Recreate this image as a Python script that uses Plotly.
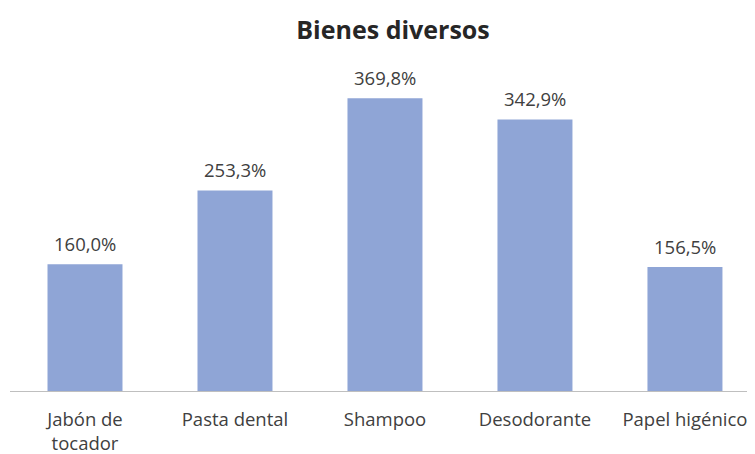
import plotly.graph_objects as go

categories = ["Jabón de<br>tocador", "Pasta dental", "Shampoo", "Desodorante", "Papel higénico"]
values = [160.0, 253.3, 369.8, 342.9, 156.5]
labels = ["160,0%", "253,3%", "369,8%", "342,9%", "156,5%"]

fig = go.Figure()
fig.add_trace(go.Bar(
    x=list(range(len(categories))), y=values,
    marker=dict(color="#8FA5D6", line=dict(width=0)),
    width=0.5, hoverinfo="skip",
))
for i, (v, t) in enumerate(zip(values, labels)):
    fig.add_annotation(x=i, y=v, text=t, showarrow=False, yshift=21,
                       yanchor="middle",
                       font=dict(family="Open Sans", size=18.5, color="#404040"))

fig.update_layout(
    width=755, height=454,
    margin=dict(l=2, r=8, t=52, b=71),
    paper_bgcolor="white", plot_bgcolor="white",
    showlegend=False,
    title=dict(text="<b>Bienes diversos</b>", x=0.51, xanchor="center", y=0.952, yanchor="middle",
               font=dict(family="Open Sans", size=25, color="#262626")),
    font=dict(family="Open Sans", size=18.5, color="#404040"),
)
fig.update_xaxes(
    tickmode="array", tickvals=list(range(len(categories))), ticktext=categories,
    range=[-0.5, 4.467], showline=True, linecolor="#BFBFBF", linewidth=1,
    showgrid=False, zeroline=False, ticks="", ticklabelstandoff=12,
    tickfont=dict(size=18.5, color="#404040"),
)
fig.update_yaxes(range=[0, 418], visible=False, showgrid=False, zeroline=False)

fig.write_html("out.html")
